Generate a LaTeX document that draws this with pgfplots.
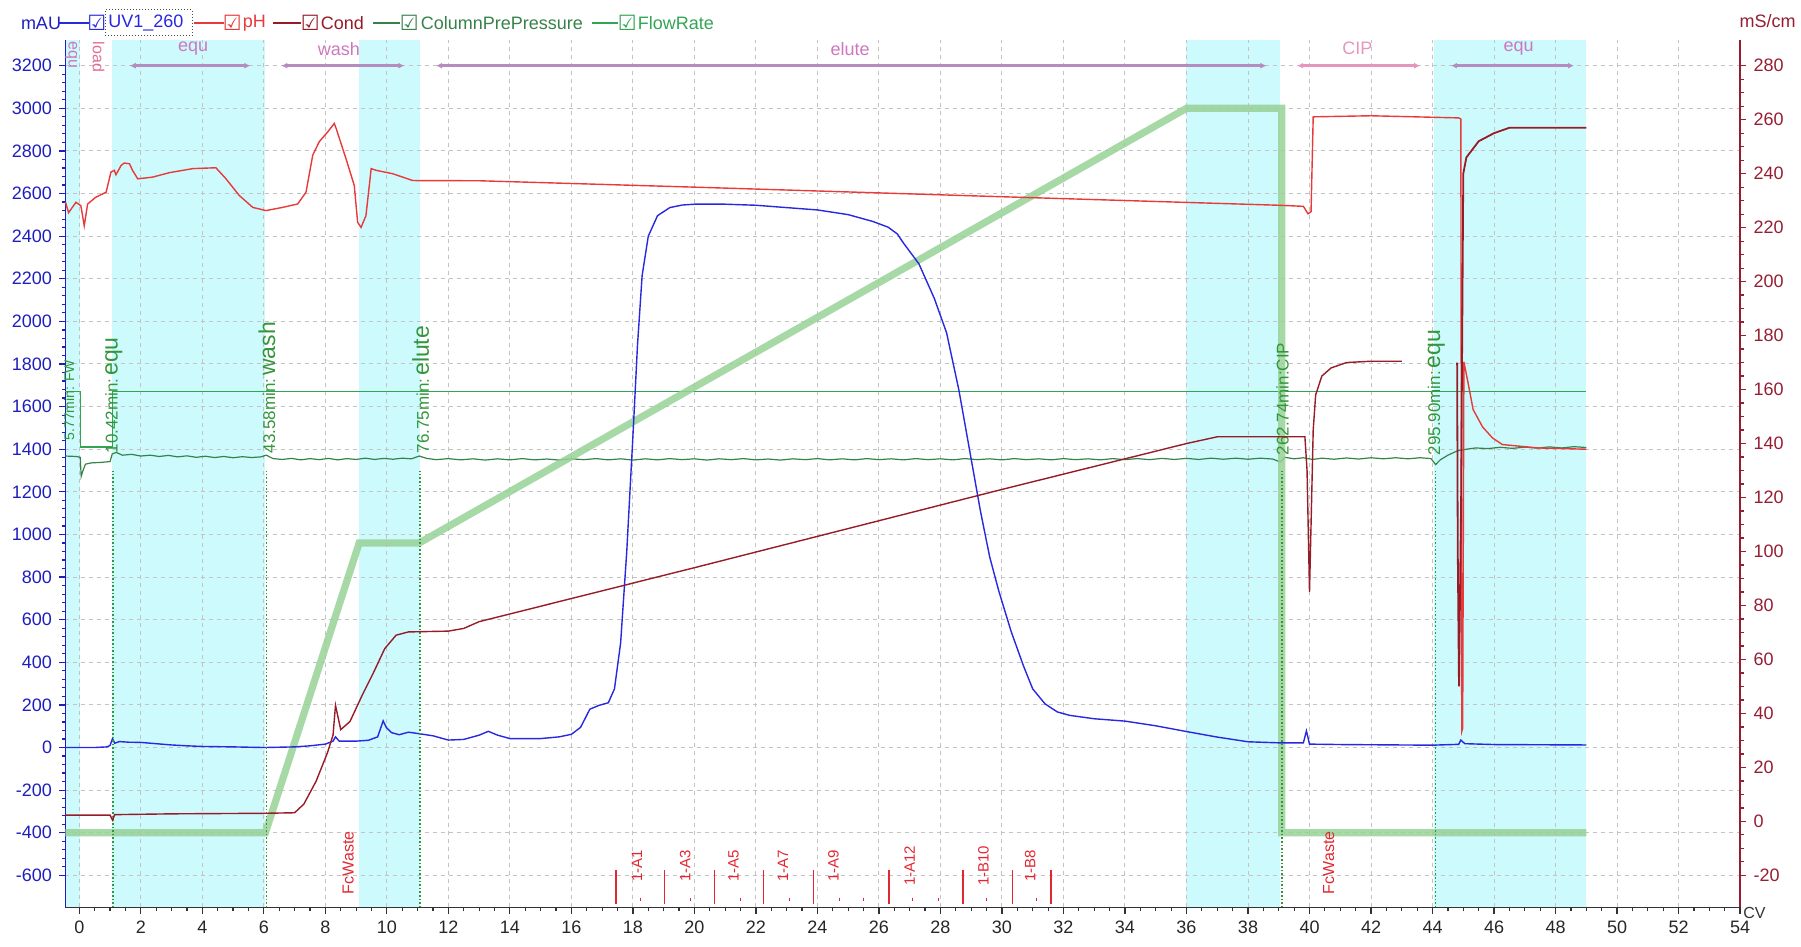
\documentclass[border=0pt]{standalone}
\usepackage{fontspec}
\setmainfont{Liberation Sans}
\newfontfamily\djv{DejaVu Sans}
\usepackage{pgfplots}
\pgfplotsset{compat=1.18}
\usetikzlibrary{arrows.meta}
\definecolor{uvblue}{RGB}{40,40,225}
\definecolor{phred}{RGB}{232,58,58}
\definecolor{conddark}{RGB}{150,28,40}
\definecolor{cppgreen}{RGB}{55,130,75}
\definecolor{flowgreen}{RGB}{50,165,85}
\definecolor{thickgreen}{RGB}{150,210,150}
\definecolor{cyanbg}{RGB}{205,250,252}
\definecolor{axblue}{RGB}{30,30,190}
\definecolor{axred}{RGB}{150,30,50}
\definecolor{phasepink}{RGB}{205,120,190}
\definecolor{loadpink}{RGB}{225,110,150}
\definecolor{arrowcol}{RGB}{180,140,190}
\definecolor{cippink}{RGB}{230,150,190}
\definecolor{evgreen}{RGB}{50,150,60}
\definecolor{fracred}{RGB}{225,40,50}
\definecolor{gridgray}{RGB}{195,195,195}
\newcommand{\tfont}{\fontsize{9}{10}\selectfont}
\newcommand{\cbox}{{\djv\fontsize{10.5}{11}\selectfont\char"2611}}
\begin{document}
\begin{tikzpicture}
\begin{axis}[
  set layers,
  at={(32.74pt,19.53pt)}, anchor=south west, scale only axis,
  width=837.3pt, height=433.6pt,
  xmin=-0.45, xmax=54, ymin=-750, ymax=3320,
  axis x line*=bottom, axis y line*=left,
  xtick={0,2,...,54}, minor x tick num=3,
  ytick={-600,-400,...,3200}, minor y tick num=4,
  tick align=outside,
  major tick length=3.2pt, minor tick length=1.8pt,
  xmajorgrids, ymajorgrids,
  major grid style={gridgray, dash pattern=on 2pt off 2pt, line width=0.5pt},
  x axis line style={black!80, line width=0.8pt},
  y axis line style={axblue, line width=0.9pt},
  x tick style={black!80, line width=0.6pt},
  y tick style={axblue, line width=0.6pt},
  xticklabel style={font=\tfont, text=black!85},
  yticklabel style={font=\tfont, text=axblue},
  /pgf/number format/assume math mode=true,
  /pgf/number format/1000 sep={},
  clip=false,
]
\begin{pgfonlayer}{axis background}
\fill[cyanbg] (axis cs:-0.45,-750) rectangle (axis cs:0.03,3320);
\fill[cyanbg] (axis cs:1.07,-750) rectangle (axis cs:6.05,3320);
\fill[cyanbg] (axis cs:9.1,-750) rectangle (axis cs:11.07,3320);
\fill[cyanbg] (axis cs:36.0,-750) rectangle (axis cs:39.05,3320);
\fill[cyanbg] (axis cs:44.05,-750) rectangle (axis cs:49.0,3320);
\end{pgfonlayer}

% FlowRate
\addplot[flowgreen, line width=0.7pt] coordinates {
(-0.45,1670) (0.03,1670) (0.03,1410) (1.07,1410) (1.07,1670) (49,1670)};

% ColumnPrePressure
\addplot[cppgreen, line width=0.6pt] coordinates {
(-0.45,1368) (-0.1,1366) (0.03,1362) (0.06,1272) (0.12,1300) (0.2,1330) (0.4,1336) (0.7,1338) (1.0,1342) (1.07,1378) (1.2,1385) (1.4,1372) (1.7,1376) (2.0,1368) (2.3,1372) (2.6,1366) (2.9,1371) (3.2,1364) (3.5,1369) (3.8,1362) (4.1,1367) (4.4,1361) (4.7,1366) (5.0,1360) (5.3,1365) (5.6,1361) (5.9,1364) (6.08,1372) (6.3,1356) (6.6,1352) (6.9,1357) (7.2,1350) (7.5,1356) (7.8,1351) (8.1,1357) (8.4,1350) (8.7,1356) (9.0,1352) (9.3,1358) (9.6,1352) (9.9,1357) (10.2,1353) (10.5,1358) (10.8,1355) (11.05,1368) (11.3,1357) (11.6,1351) (12.0,1356) (12.4,1350) (12.8,1355) (13.2,1349) (13.6,1355) (14.0,1350) (14.4,1356) (14.8,1350) (15.2,1354) (15.6,1349) (16.0,1355) (16.4,1351) (16.8,1356) (17.2,1350) (17.6,1355) (18.0,1349) (18.4,1355) (18.8,1350) (19.2,1356) (19.6,1351) (20.0,1355) (20.4,1349) (20.8,1355) (21.2,1351) (21.6,1356) (22.0,1350) (22.4,1354) (22.8,1349) (23.2,1355) (23.6,1351) (24.0,1356) (24.4,1350) (24.8,1355) (25.2,1350) (25.6,1356) (26.0,1351) (26.4,1355) (26.8,1350) (27.2,1356) (27.6,1351) (28.0,1355) (28.4,1350) (28.8,1356) (29.2,1351) (29.6,1355) (30.0,1350) (30.4,1356) (30.8,1351) (31.2,1355) (31.6,1350) (32.0,1356) (32.4,1351) (32.8,1355) (33.2,1350) (33.6,1356) (34.0,1351) (34.4,1356) (34.8,1351) (35.2,1357) (35.6,1352) (36.0,1357) (36.4,1352) (36.8,1358) (37.2,1353) (37.6,1358) (38.0,1353) (38.4,1358) (38.8,1354) (39.05,1340) (39.2,1362) (39.5,1355) (39.8,1360) (40.1,1352) (40.4,1358) (40.8,1353) (41.2,1359) (41.6,1354) (42.0,1360) (42.4,1355) (42.8,1360) (43.2,1355) (43.6,1360) (43.95,1356) (44.1,1328) (44.25,1350) (44.5,1372) (44.8,1392) (45.1,1400) (45.4,1406) (45.8,1403) (46.2,1409) (46.6,1404) (47.0,1410) (47.4,1405) (47.8,1411) (48.2,1406) (48.6,1412) (49.0,1408)};

% thick gradient line
\addplot[thickgreen, line width=3.6pt, opacity=0.85] coordinates {
(-0.45,-400) (6.05,-400) (9.1,960) (11.05,960) (36.0,3000) (39.1,3000) (39.1,-400) (49.0,-400)};

% UV1_260
\addplot[uvblue, line width=0.7pt] coordinates {
(-0.45,0) (0.5,0) (0.9,3) (1.0,10) (1.08,42) (1.15,20) (1.3,28) (1.6,25) (2.0,24) (2.5,18) (3.0,12) (3.5,8) (4.0,5) (5.0,3) (6.0,0) (7.0,3) (7.5,8) (8.0,16) (8.25,30) (8.33,50) (8.45,30) (9.0,30) (9.4,34) (9.7,50) (9.88,125) (9.98,95) (10.15,70) (10.4,60) (10.7,72) (11.0,66) (11.5,55) (12.0,35) (12.5,38) (13.0,58) (13.3,76) (13.6,58) (14.0,42) (15.0,42) (15.6,50) (16.0,62) (16.3,95) (16.6,180) (16.9,198) (17.2,210) (17.4,275) (17.6,490) (17.8,920) (18.0,1460) (18.15,1890) (18.3,2215) (18.5,2400) (18.8,2496) (19.2,2534) (19.6,2546) (20.0,2550) (21.0,2550) (22.0,2545) (23.0,2534) (24.0,2523) (25.0,2501) (25.8,2469) (26.3,2442) (26.6,2410) (26.8,2367) (27.3,2270) (27.8,2108) (28.2,1946) (28.6,1677) (29.0,1353) (29.3,1110) (29.6,895) (29.9,733) (30.3,544) (30.7,383) (31.0,275) (31.4,205) (31.8,167) (32.2,151) (33.0,135) (34.0,124) (35.0,102) (36.0,75) (37.0,49) (38.0,27) (39.0,22) (39.8,22) (39.9,78) (40.0,16) (41,14) (44.0,11) (44.85,15) (44.92,35) (45.05,18) (46,14) (49.0,12)};

% pH
\addplot[phred, line width=0.7pt] coordinates {
(-0.45,2560) (-0.35,2510) (-0.11,2559) (0.05,2543) (0.16,2449) (0.27,2551) (0.54,2583) (0.87,2606) (1.03,2701) (1.14,2709) (1.19,2688) (1.36,2732) (1.46,2743) (1.63,2740) (1.73,2709) (1.9,2669) (2.38,2677) (2.93,2698) (3.69,2717) (4.44,2721) (4.77,2669) (5.2,2591) (5.64,2535) (6.07,2520) (6.61,2535) (7.1,2551) (7.37,2606) (7.59,2780) (7.8,2843) (8.08,2890) (8.29,2929) (8.35,2906) (8.67,2764) (8.94,2638) (9.05,2465) (9.16,2441) (9.32,2496) (9.49,2717) (9.65,2709) (10.19,2693) (10.84,2661) (13.0,2660) (20.0,2630) (30.0,2585) (39.0,2545) (39.8,2540) (39.95,2505) (40.05,2515) (40.12,2960) (42.0,2965) (44.85,2955) (44.92,2950) (44.95,75) (44.98,90) (45.02,1810) (45.16,1708) (45.32,1586) (45.63,1504) (45.95,1453) (46.27,1422) (47.43,1406) (49.0,1400)};

% event markers
\draw[evgreen, densely dotted, line width=0.8pt] (axis cs:1.1,-750) -- (axis cs:1.1,1300);
\draw[evgreen, densely dotted, line width=0.8pt] (axis cs:6.08,-750) -- (axis cs:6.08,1300);
\draw[evgreen, densely dotted, line width=0.8pt] (axis cs:11.08,-750) -- (axis cs:11.08,1300);
\draw[evgreen, densely dotted, line width=0.8pt] (axis cs:39.1,-750) -- (axis cs:39.1,1300);
\draw[evgreen, densely dotted, line width=0.8pt] (axis cs:44.1,-750) -- (axis cs:44.1,1300);
\node[rotate=90, anchor=west, inner sep=1pt, text=evgreen] at (axis cs:-0.33,1430) {\fontsize{7}{8}\selectfont 5.77min: FW};
\node[rotate=90, anchor=west, inner sep=1pt, text=evgreen] at (axis cs:1.12,1370) {\fontsize{8.5}{9}\selectfont 10.42min:\,\fontsize{11.5}{12}\selectfont equ};
\node[rotate=90, anchor=west, inner sep=1pt, text=evgreen] at (axis cs:6.1,1370) {\fontsize{8.5}{9}\selectfont 43.58min:\,\fontsize{11.5}{12}\selectfont wash};
\node[rotate=90, anchor=west, inner sep=1pt, text=evgreen] at (axis cs:11.1,1370) {\fontsize{8.5}{9}\selectfont 76.75min:\,\fontsize{11.5}{12}\selectfont elute};
\node[rotate=90, anchor=west, inner sep=1pt, text=evgreen] at (axis cs:39.12,1360) {\fontsize{8.5}{9}\selectfont 262.74min:CIP};
\node[rotate=90, anchor=west, inner sep=1pt, text=evgreen] at (axis cs:44.12,1360) {\fontsize{8.5}{9}\selectfont 295.90min:\,\fontsize{11.5}{12}\selectfont equ};

% phase band
\node[rotate=-90, anchor=west, inner sep=0.5pt, text=phasepink] at (axis cs:-0.26,3318) {\fontsize{8}{9}\selectfont equ};
\node[rotate=-90, anchor=west, inner sep=0.5pt, text=loadpink] at (axis cs:0.63,3318) {\fontsize{8}{9}\selectfont load};
\draw[arrowcol, line width=1.2pt, {Latex[length=3pt,width=3pt]}-{Latex[length=3pt,width=3pt]}] (axis cs:1.64,3200) -- (axis cs:5.56,3200);
\draw[arrowcol, line width=1.2pt, {Latex[length=3pt,width=3pt]}-{Latex[length=3pt,width=3pt]}] (axis cs:6.57,3200) -- (axis cs:10.57,3200);
\draw[arrowcol, line width=1.2pt, {Latex[length=3pt,width=3pt]}-{Latex[length=3pt,width=3pt]}] (axis cs:11.6,3200) -- (axis cs:38.6,3200);
\draw[cippink, line width=1.2pt, {Latex[length=3pt,width=3pt]}-{Latex[length=3pt,width=3pt]}] (axis cs:39.6,3200) -- (axis cs:43.6,3200);
\draw[arrowcol, line width=1.2pt, {Latex[length=3pt,width=3pt]}-{Latex[length=3pt,width=3pt]}] (axis cs:44.6,3200) -- (axis cs:48.6,3200);
\node[text=phasepink] at (axis cs:3.7,3280) {\fontsize{9}{10}\selectfont equ};
\node[text=phasepink] at (axis cs:8.44,3280) {\fontsize{9}{10}\selectfont wash};
\node[text=phasepink] at (axis cs:25.06,3280) {\fontsize{9}{10}\selectfont elute};
\node[text=cippink] at (axis cs:41.56,3280) {\fontsize{9}{10}\selectfont CIP};
\node[text=phasepink] at (axis cs:46.8,3280) {\fontsize{9}{10}\selectfont equ};

% fractions
\draw[fracred, line width=0.8pt] (axis cs:17.45,-575) -- (axis cs:17.45,-735);
\draw[fracred, line width=0.8pt] (axis cs:19.03,-575) -- (axis cs:19.03,-735);
\draw[fracred, line width=0.8pt] (axis cs:20.65,-575) -- (axis cs:20.65,-735);
\draw[fracred, line width=0.8pt] (axis cs:22.25,-575) -- (axis cs:22.25,-735);
\draw[fracred, line width=0.8pt] (axis cs:23.87,-575) -- (axis cs:23.87,-735);
\draw[fracred, line width=0.8pt] (axis cs:26.32,-575) -- (axis cs:26.32,-735);
\draw[fracred, line width=0.8pt] (axis cs:28.73,-575) -- (axis cs:28.73,-735);
\draw[fracred, line width=0.8pt] (axis cs:30.34,-575) -- (axis cs:30.34,-735);
\draw[fracred, line width=0.8pt] (axis cs:31.59,-575) -- (axis cs:31.59,-735);
\draw[fracred, line width=0.6pt] (axis cs:18.24,-705) -- (axis cs:18.24,-722);
\draw[fracred, line width=0.6pt] (axis cs:19.86,-705) -- (axis cs:19.86,-722);
\draw[fracred, line width=0.6pt] (axis cs:21.49,-705) -- (axis cs:21.49,-722);
\draw[fracred, line width=0.6pt] (axis cs:23.09,-705) -- (axis cs:23.09,-722);
\draw[fracred, line width=0.6pt] (axis cs:24.72,-705) -- (axis cs:24.72,-722);
\draw[fracred, line width=0.6pt] (axis cs:25.5,-705) -- (axis cs:25.5,-722);
\draw[fracred, line width=0.6pt] (axis cs:27.1,-705) -- (axis cs:27.1,-722);
\draw[fracred, line width=0.6pt] (axis cs:27.94,-705) -- (axis cs:27.94,-722);
\draw[fracred, line width=0.6pt] (axis cs:29.51,-705) -- (axis cs:29.51,-722);
\draw[fracred, line width=0.6pt] (axis cs:31.13,-705) -- (axis cs:31.13,-722);
\node[rotate=90, text=fracred, inner sep=0pt] at (axis cs:18.13,-555) {\fontsize{7.5}{8}\selectfont 1-A1};
\node[rotate=90, text=fracred, inner sep=0pt] at (axis cs:19.7,-555) {\fontsize{7.5}{8}\selectfont 1-A3};
\node[rotate=90, text=fracred, inner sep=0pt] at (axis cs:21.27,-555) {\fontsize{7.5}{8}\selectfont 1-A5};
\node[rotate=90, text=fracred, inner sep=0pt] at (axis cs:22.88,-555) {\fontsize{7.5}{8}\selectfont 1-A7};
\node[rotate=90, text=fracred, inner sep=0pt] at (axis cs:24.52,-555) {\fontsize{7.5}{8}\selectfont 1-A9};
\node[rotate=90, text=fracred, inner sep=0pt] at (axis cs:27.0,-555) {\fontsize{7.5}{8}\selectfont 1-A12};
\node[rotate=90, text=fracred, inner sep=0pt] at (axis cs:29.4,-555) {\fontsize{7.5}{8}\selectfont 1-B10};
\node[rotate=90, text=fracred, inner sep=0pt] at (axis cs:30.92,-555) {\fontsize{7.5}{8}\selectfont 1-B8};
\node[rotate=90, anchor=west, text=fracred, inner sep=0pt] at (axis cs:8.74,-690) {\fontsize{8}{9}\selectfont FcWaste};
\node[rotate=90, anchor=west, text=fracred, inner sep=0pt] at (axis cs:40.62,-690) {\fontsize{8}{9}\selectfont FcWaste};
\end{axis}

\begin{axis}[
  at={(32.74pt,19.53pt)}, anchor=south west, scale only axis,
  width=837.3pt, height=433.6pt,
  xmin=-0.45, xmax=54, ymin=-31.84, ymax=289.47,
  axis x line=none, axis y line*=right,
  ytick={-20,0,...,280}, minor y tick num=3,
  tick align=outside, major tick length=3.2pt, minor tick length=1.8pt,
  y axis line style={axred, line width=0.9pt},
  y tick style={axred, line width=0.6pt},
  yticklabel style={font=\tfont, text=axred},
  /pgf/number format/assume math mode=true,
]
\addplot[conddark, line width=0.7pt] coordinates {
(-0.45,2.3) (1.0,2.3) (1.08,0.5) (1.15,2.5) (3,2.8) (6.0,3.0) (7.0,3.2) (7.3,6.4) (7.7,14.9) (8.07,25.5) (8.25,32) (8.33,43) (8.5,34) (8.8,37) (9.2,46.8) (9.56,55) (9.93,64) (10.3,69) (10.7,70.2) (12.0,70.5) (12.5,71.5) (13.0,74) (20.0,94) (30.0,123) (36.0,140) (37.0,142.5) (39.85,142.5) (39.92,130) (40.0,85) (40.05,110) (40.12,145) (40.2,158) (40.4,165) (40.7,168) (41.2,170) (42.0,170.5) (43.0,170.5)};
\addplot[conddark, line width=0.9pt] coordinates {
(44.8,170) (44.82,101) (44.86,50) (44.93,120) (45.0,240) (45.1,246) (45.5,252) (46.0,255) (46.5,257) (49.0,257)};
\end{axis}

% legend and axis titles
\node[anchor=west, text=axblue, inner sep=0pt] at (10.3pt,461.7pt) {\tfont mAU};
\draw[uvblue, line width=0.8pt] (29pt,461.7pt) -- (44.5pt,461.7pt);
\node[text=uvblue, inner sep=0pt] at (48.4pt,461.7pt) {\cbox};
\draw[black!70, densely dotted, line width=0.5pt] (52.6pt,455.3pt) rectangle (96pt,468.3pt);
\node[anchor=west, text=uvblue, inner sep=0pt] at (54pt,461.7pt) {\tfont UV1\_260};
\draw[phred, line width=0.8pt] (97pt,461.7pt) -- (112pt,461.7pt);
\node[text=phred, inner sep=0pt] at (116.2pt,461.7pt) {\cbox};
\node[anchor=west, text=phred, inner sep=0pt] at (121.2pt,461.7pt) {\tfont pH};
\draw[conddark, line width=0.8pt] (136.7pt,461.7pt) -- (150.6pt,461.7pt);
\node[text=conddark, inner sep=0pt] at (155.1pt,461.7pt) {\cbox};
\node[anchor=west, text=conddark, inner sep=0pt] at (160.2pt,461.7pt) {\tfont Cond};
\draw[cppgreen, line width=0.8pt] (186.6pt,461.7pt) -- (200pt,461.7pt);
\node[text=cppgreen, inner sep=0pt] at (204.6pt,461.7pt) {\cbox};
\node[anchor=west, text=cppgreen, inner sep=0pt] at (210.2pt,461.7pt) {\tfont ColumnPrePressure};
\draw[flowgreen, line width=0.8pt] (295.8pt,461.7pt) -- (309.1pt,461.7pt);
\node[text=flowgreen, inner sep=0pt] at (313.7pt,461.7pt) {\cbox};
\node[anchor=west, text=flowgreen, inner sep=0pt] at (318.7pt,461.7pt) {\tfont FlowRate};
\node[anchor=east, text=axred, inner sep=0pt] at (898pt,462.5pt) {\tfont mS/cm};
\node[anchor=west, text=black!80, inner sep=0pt] at (871.5pt,16.5pt) {\fontsize{8}{9}\selectfont CV};
\pgfresetboundingbox
\path[use as bounding box] (0,0) rectangle (900.5pt,473.2pt);
\end{tikzpicture}
\end{document}
